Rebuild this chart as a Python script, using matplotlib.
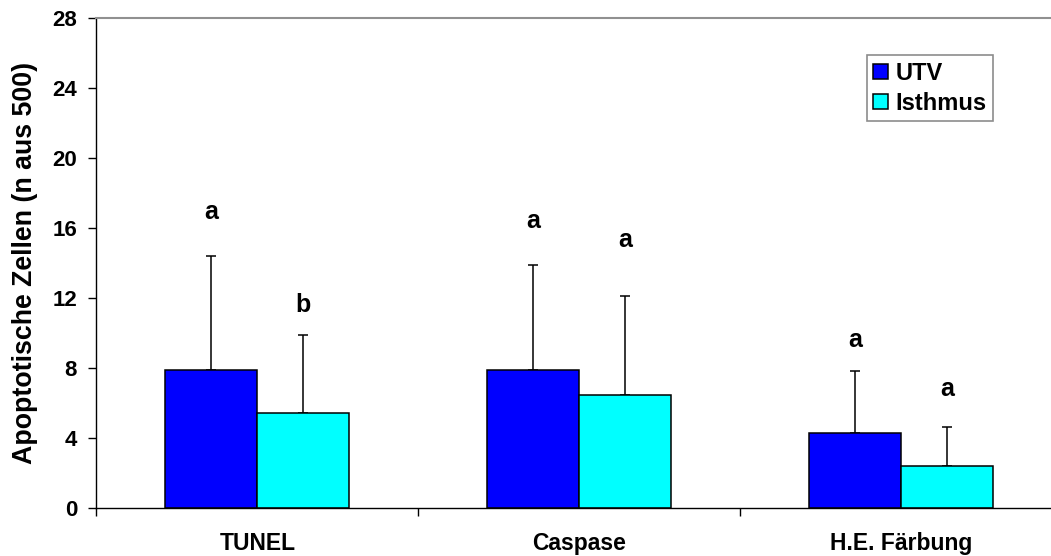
import matplotlib
matplotlib.use("Agg")
import matplotlib.pyplot as plt
import numpy as np

categories = ["TUNEL", "Caspase", "H.E. Färbung"]
series_names = ["UTV", "Isthmus"]
utv_values = [7.9, 7.9, 4.3]
utv_err = [6.5, 6.0, 3.5]
isthmus_values = [5.4, 6.45, 2.4]
isthmus_err = [4.5, 5.65, 2.2]
utv_letters = ["a", "a", "a"]
isthmus_letters = ["b", "a", "a"]
utv_letter_y = [16.9, 16.4, 9.6]
isthmus_letter_y = [11.6, 15.3, 6.8]
yticks = [0, 4, 8, 12, 16, 20, 24, 28]

plt.rcParams['font.family'] = ['Liberation Sans', 'DejaVu Sans']
plt.rcParams['font.weight'] = 'bold'

fig = plt.figure(figsize=(10.51, 5.56), dpi=100)
ax = fig.add_axes([0.0918, 0.0863, 0.9187, 0.882])

x = np.arange(len(categories))
w = 0.286
colors = ["#0000FF", "#00FFFF"]

ax.bar(x - w / 2, utv_values, w, color=colors[0], edgecolor="black", linewidth=1.1,
       label=series_names[0], zorder=2)
ax.bar(x + w / 2, isthmus_values, w, color=colors[1], edgecolor="black", linewidth=1.1,
       label=series_names[1], zorder=2)
ax.errorbar(x - w / 2, utv_values, yerr=[np.zeros(3), utv_err], fmt="none",
            ecolor="black", elinewidth=1.1, capsize=3.8, capthick=1.1, zorder=1)
ax.errorbar(x + w / 2, isthmus_values, yerr=[np.zeros(3), isthmus_err], fmt="none",
            ecolor="black", elinewidth=1.1, capsize=3.8, capthick=1.1, zorder=1)

for i in range(len(categories)):
    ax.text(x[i] - w / 2, utv_letter_y[i], utv_letters[i], ha="center", va="center",
            fontsize=18, fontweight="bold")
    ax.text(x[i] + w / 2, isthmus_letter_y[i], isthmus_letters[i], ha="center", va="center",
            fontsize=18, fontweight="bold")

ax.set_xlim(-0.5, 2.5)
ax.set_ylim(0, 28)
ax.set_yticks(yticks)
ax.set_yticklabels([str(t) for t in yticks], fontsize=16, fontweight="bold")
ax.set_xticks([-0.5, 0.5, 1.5, 2.5])
ax.set_xticklabels([])
ax.set_xticks(x, minor=True)
ax.set_xticklabels(categories, minor=True, fontsize=16.5, fontweight="bold")
ax.tick_params(axis="x", which="minor", length=0, pad=17.5)
ax.tick_params(axis="x", which="major", length=5.5, width=1, direction="out")
ax.tick_params(axis="y", length=6, width=1, direction="out", pad=8)
ax.set_ylabel("Apoptotische Zellen (n aus 500)", fontsize=19.3, fontweight="bold", labelpad=10)

ax.spines["top"].set_color("#909090")
ax.spines["top"].set_linewidth(1.5)
ax.spines["right"].set_visible(False)
ax.spines["left"].set_linewidth(1.0)
ax.spines["bottom"].set_linewidth(1.0)

leg = ax.legend(loc="upper left", bbox_to_anchor=(0.7977, 0.9235), frameon=True, fancybox=False,
                fontsize=17, handlelength=0.64, handleheight=0.64, handletextpad=0.3,
                borderpad=0.28, labelspacing=0.3, borderaxespad=0)
leg.get_frame().set_edgecolor("#707070")
leg.get_frame().set_linewidth(1.2)
for t in leg.get_texts():
    t.set_fontweight("bold")

fig.savefig("out.png", dpi=100)
